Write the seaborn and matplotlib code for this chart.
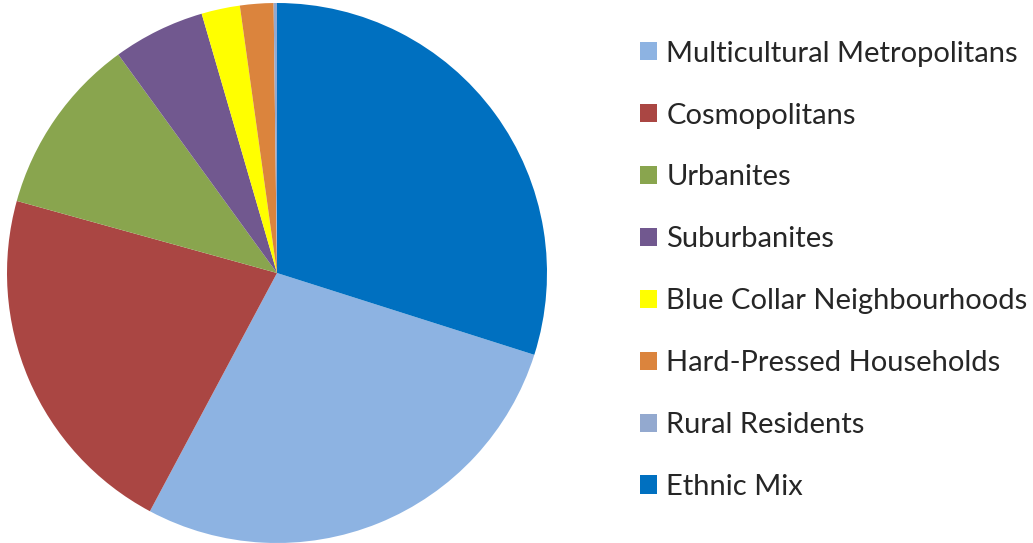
import matplotlib.pyplot as plt
from matplotlib.patches import Patch
import seaborn as sns

sns.set_style("white")
plt.rcParams['font.family'] = ['Lato', 'DejaVu Sans']

segments = ["Multicultural Metropolitans", "Cosmopolitans", "Urbanites", "Suburbanites",
            "Blue Collar Neighbourhoods", "Hard-Pressed Households", "Rural Residents", "Ethnic Mix"]
shares = [27.9, 21.5, 10.7, 5.5, 2.3, 2.0, 0.2, 29.9]
colours = ["#8DB3E2", "#AA4643", "#89A54E", "#71588F", "#FFFF00", "#DB843D", "#93A9CF", "#0070C0"]

fig = plt.figure(figsize=(10.33, 5.43), dpi=100)
ax = fig.add_axes([7 / 1033, 0, 540 / 1033, 540 / 543])

# last slice (Ethnic Mix) starts at 12 o'clock, rest follow clockwise
start = 90 - 360 * shares[-1] / sum(shares)
ax.pie(shares, colors=colours, startangle=start, counterclock=False,
       wedgeprops=dict(linewidth=0))
ax.set_xlim(-1, 1)
ax.set_ylim(-1, 1)
ax.set_aspect("equal")
ax.axis("off")

handles = [Patch(facecolor=c, edgecolor="none") for c in colours]
fig.legend(handles, segments, loc="upper left", bbox_to_anchor=(628 / 1033, 1 - 29 / 543),
           frameon=False, fontsize=21, handlelength=0.58, handleheight=0.58,
           handletextpad=0.34, labelspacing=1.23, borderaxespad=0)

fig.savefig("out.png", dpi=100)
